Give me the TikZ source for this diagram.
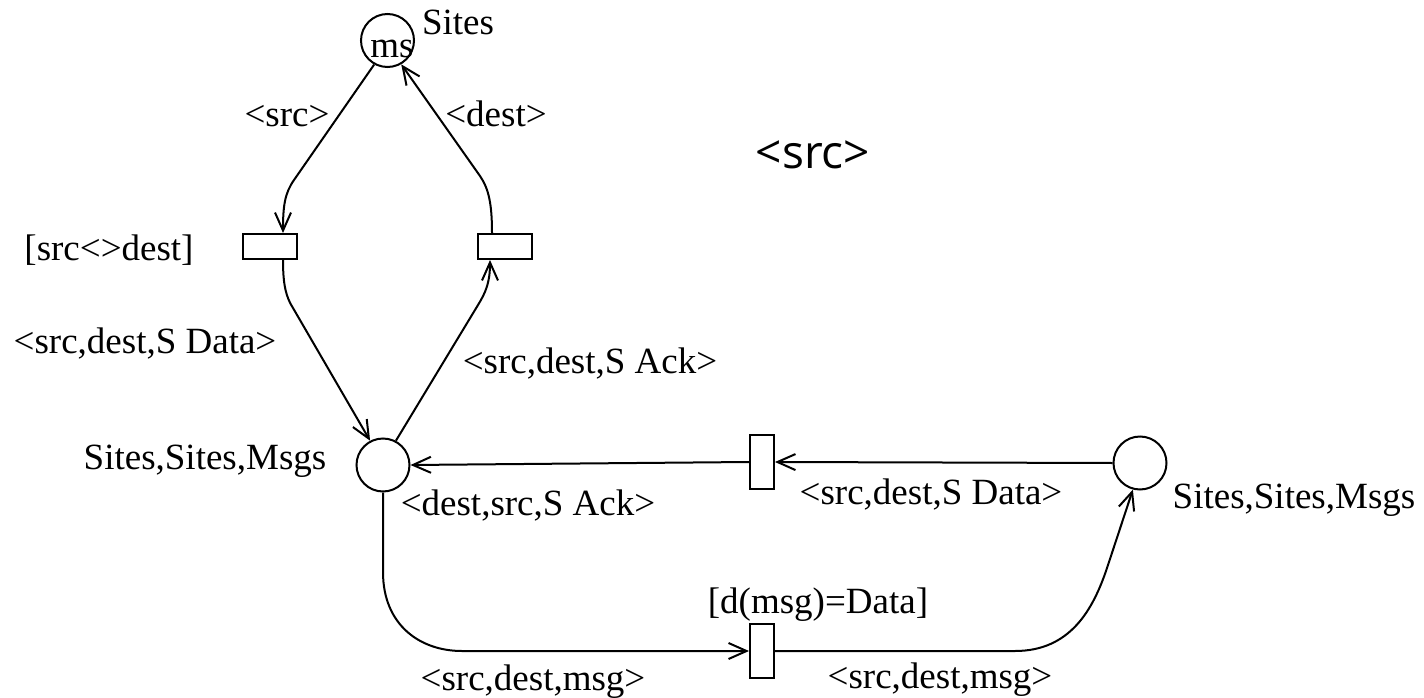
\documentclass[tikz,border=0pt]{standalone}
\usepackage{fontspec}
\setmainfont{Liberation Serif}
\newfontfamily\bigsans{Open Sans}
\usetikzlibrary{arrows.meta}
\begin{document}
\begin{tikzpicture}[x=1pt,y=-1pt,
  place/.style={circle, draw, line width=2pt, minimum size=53pt, inner sep=0pt},
  htrans/.style={rectangle, draw, line width=2pt, minimum width=54pt, minimum height=25pt, inner sep=0pt},
  vtrans/.style={rectangle, draw, line width=2pt, minimum width=24pt, minimum height=54pt, inner sep=0pt},
  arc/.style={line width=2pt, -{Straight Barb[length=18pt,width=16pt,line width=2pt]}},
  lbl/.style={anchor=base, inner sep=0pt, font=\fontsize{37}{40}\selectfont}]
\useasboundingbox (0,0) rectangle (1424,698);
% places and transitions
\node[place] (p1) at (387.5,40.5) {};
\node[place] (p2) at (383,465) {};
\node[place] (p3) at (1140,463) {};
\node[htrans] (t1) at (270,246.5) {};
\node[htrans] (t2) at (505,246.5) {};
\node[vtrans] (t3) at (762,462) {};
\node[vtrans] (t4) at (762,651) {};
% arcs
\draw[arc] (p1.241) -- (294,180) .. controls (285,193) and (283,205) .. ([xshift=13pt]t1.north);
\draw[arc] ([xshift=-13pt]t2.north) .. controls (492,205) and (489,189) .. (480,176) -- (p1.300);
\draw[arc] ([xshift=13pt]t1.south) .. controls (283,285) and (286,297) .. (293,308) -- (p2.118);
\draw[arc] (p2.62) -- (478,305) .. controls (486,292) and (490,282) .. ([xshift=-15pt]t2.south);
\draw[arc] (t3.west) -- (p2.east);
\draw[arc] (p3.west) -- (t3.east);
\draw[arc] (p2.south) -- (383,572) .. controls (383,625) and (420,651) .. (462,651) -- (t4.west);
\draw[arc] (t4.east) -- (1015,651) .. controls (1070,651) and (1093,610) .. (1107,568) -- (p3.255);
% labels
\node[lbl] (lms) at (392,58) {ms};
\node[lbl] (lsites) at (458,35) {Sites};
\node[lbl] (la1) at (287,127) {<src>};
\node[lbl] (la2) at (496,127) {<dest>};
\node[lbl] (lg1) at (109,260) {[src<>dest]};
\node[lbl] (la3) at (145,353) {<src,dest,S Data>};
\node[lbl] (la4) at (590,373) {<src,dest,S Ack>};
\node[lbl] (lp2) at (205,469) {Sites,Sites,Msgs};
\node[lbl] (la5) at (528,515) {<dest,src,S Ack>};
\node[lbl] (la6) at (931,504) {<src,dest,S Data>};
\node[lbl] (lp3) at (1294,508) {Sites,Sites,Msgs};
\node[lbl] (lg4) at (818,613) {[d(msg)=Data]};
\node[lbl] (la7) at (533,690) {<src,dest,msg>};
\node[lbl] (la8) at (940,688) {<src,dest,msg>};
\node[anchor=base, inner sep=0pt, font=\bigsans\fontsize{46}{50}\selectfont] (big) at (813,168) {<src>};
\end{tikzpicture}
\end{document}
